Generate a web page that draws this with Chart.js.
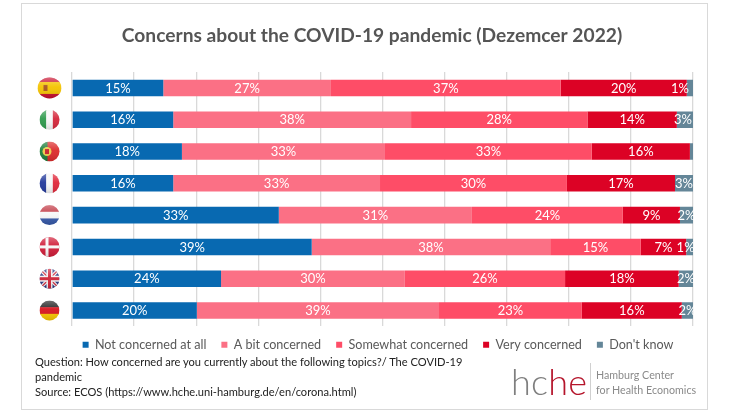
<!DOCTYPE html>
<html>
<head>
<meta charset="utf-8">
<title>Concerns about the COVID-19 pandemic</title>
<script src="https://cdn.jsdelivr.net/npm/chart.js@4"></script>
<style>
  html, body { margin: 0; padding: 0; background: #fff; }
  #wrap { position: relative; width: 733px; height: 414px; overflow: hidden; font-family: Lato, sans-serif; }
  #frame { position: absolute; left: 21px; top: 3px; width: 685px; height: 405px; border: 1.5px solid #d9d9d9; }
  canvas { position: absolute; left: 0; top: 0; }
  #note { position: absolute; left: 35px; top: 354px; font-size: 11.1px; line-height: 15px; color: #222; white-space: nowrap; }
  #logo { position: absolute; left: 511px; top: 356px; font-size: 36px; line-height: 50px; font-weight: 300; color: #7f7f7f; letter-spacing: 0.2px; }
  #logo span { color: #b5152b; }
  #rule { position: absolute; left: 590px; top: 363px; width: 1px; height: 37px; background: #d0d0d0; }
  #org { position: absolute; left: 596px; top: 367px; font-size: 10.7px; line-height: 15px; color: #8a8a8a; white-space: nowrap; }
</style>
</head>
<body>
<div id="wrap">
  <div id="frame"></div>
  <canvas id="chart" width="733" height="414"></canvas>
  <div id="note">Question: How concerned are you currently about the following topics?/ The COVID-19<br>pandemic<br>Source: ECOS (https://www.hche.uni-hamburg.de/en/corona.html)</div>
  <div id="logo">hc<span>he</span></div>
  <div id="rule"></div>
  <div id="org">Hamburg Center<br>for Health Economics</div>
</div>
<script>
// ---- Data ----
const countries = ['Spain', 'Italy', 'Portugal', 'France', 'Netherlands', 'Denmark', 'UK', 'Germany'];
const notConcerned = [14.7, 16.3, 17.7, 16.3, 33.3, 38.6, 24.0, 20.1];
const aBit = [27.0, 38.3, 32.7, 33.3, 31.1, 38.4, 29.6, 39.0];
const somewhat = [37.0, 28.4, 33.3, 30.1, 24.3, 14.6, 25.8, 23.0];
const very = [20.3, 14.4, 15.8, 17.4, 9.2, 7.3, 18.3, 16.1];
const dontKnow = [1.0, 2.6, 0.5, 2.9, 2.1, 1.1, 2.3, 1.8];
const seriesNames = ['Not concerned at all', 'A bit concerned', 'Somewhat concerned', 'Very concerned', "Don't know"];
const seriesColors = ['#0869b1', '#fb7085', '#fe4d67', '#dc0225', '#648698'];
const seriesValues = [notConcerned, aBit, somewhat, very, dontKnow];

// label shifts where the original moved small labels off centre: 'row,series': px
const labelShift = { '0,4': -10, '1,4': -2, '5,4': -4 };

// ---- Flags ----
function stripes(ctx, x, y, r, colors, vertical) {
  colors.forEach((c, i) => {
    const step = 2 * r / colors.length;
    ctx.fillStyle = c;
    if (vertical) ctx.fillRect(x - r + i * step, y - r, step + 0.5, 2 * r);
    else ctx.fillRect(x - r, y - r + i * step, 2 * r, step + 0.5);
  });
}

function cross(ctx, x, y, r, color, w, cx) {
  ctx.fillStyle = color;
  ctx.fillRect(cx - w / 2, y - r, w, 2 * r);
  ctx.fillRect(x - r, y - w / 2, 2 * r, w);
}

const flagPainters = {
  Spain(ctx, x, y, r) {
    stripes(ctx, x, y, r, ['#c8102e', '#f4c300', '#f4c300', '#c8102e'], false);
    ctx.fillStyle = '#a9541c';
    ctx.fillRect(x - 6, y - 3, 4, 6);
  },
  Italy(ctx, x, y, r) { stripes(ctx, x, y, r, ['#2e9a4c', '#f7f7f7', '#d4263a'], true); },
  Portugal(ctx, x, y, r) {
    stripes(ctx, x, y, r, ['#1d7f3c', '#1d7f3c', '#dc2a2a', '#dc2a2a', '#dc2a2a'], true);
    ctx.fillStyle = '#eccb4a';
    ctx.beginPath();
    ctx.arc(x - 2.5, y, 4.5, 0, Math.PI * 2);
    ctx.fill();
    ctx.fillStyle = '#c8202a';
    ctx.fillRect(x - 4.5, y - 2.5, 4, 5);
  },
  France(ctx, x, y, r) { stripes(ctx, x, y, r, ['#23399b', '#f7f7f7', '#e0273a'], true); },
  Netherlands(ctx, x, y, r) { stripes(ctx, x, y, r, ['#c23b46', '#f7f7f7', '#3558a8'], false); },
  Denmark(ctx, x, y, r) {
    stripes(ctx, x, y, r, ['#d01c38'], false);
    cross(ctx, x, y, r, '#f7f7f7', 3, x - 2.5);
  },
  UK(ctx, x, y, r) {
    stripes(ctx, x, y, r, ['#28357f'], false);
    ctx.strokeStyle = '#f3f3f3';
    ctx.lineWidth = 3.5;
    ctx.beginPath();
    ctx.moveTo(x - r, y - r); ctx.lineTo(x + r, y + r);
    ctx.moveTo(x + r, y - r); ctx.lineTo(x - r, y + r);
    ctx.stroke();
    ctx.strokeStyle = '#cf2438';
    ctx.lineWidth = 1.2;
    ctx.stroke();
    cross(ctx, x, y, r, '#f3f3f3', 6, x);
    cross(ctx, x, y, r, '#cf2438', 3, x);
  },
  Germany(ctx, x, y, r) { stripes(ctx, x, y, r, ['#222', '#d8141e', '#f6c500'], false); }
};

const flagsPlugin = {
  id: 'flags',
  afterDraw(chart) {
    const ctx = chart.ctx;
    const yScale = chart.scales.y;
    countries.forEach((name, i) => {
      const y = yScale.getPixelForValue(i);
      const x = 49.5;
      const r = 10;
      ctx.save();
      ctx.beginPath();
      if (name === 'Spain') ctx.ellipse(x, y, 12, 10.5, 0, 0, Math.PI * 2);
      else ctx.arc(x, y, r, 0, Math.PI * 2);
      ctx.clip();
      flagPainters[name](ctx, x, y, name === 'Spain' ? 12 : r);
      // glossy button look
      const gloss = ctx.createLinearGradient(0, y - r, 0, y + r);
      gloss.addColorStop(0, 'rgba(255,255,255,0.35)');
      gloss.addColorStop(0.45, 'rgba(255,255,255,0.05)');
      gloss.addColorStop(1, 'rgba(0,0,0,0.12)');
      ctx.fillStyle = gloss;
      ctx.fillRect(x - 13, y - 13, 26, 26);
      ctx.restore();
    });
  }
};

// ---- Value labels on the segments ----
const valueLabels = {
  id: 'valueLabels',
  afterDatasetsDraw(chart) {
    const ctx = chart.ctx;
    ctx.save();
    ctx.font = '13px Lato, sans-serif';
    ctx.fillStyle = '#fff';
    ctx.textAlign = 'center';
    ctx.textBaseline = 'middle';
    chart.data.datasets.forEach((ds, s) => {
      chart.getDatasetMeta(s).data.forEach((bar, row) => {
        const v = ds.data[row];
        if (v < 1) return;
        const shift = labelShift[row + ',' + s] || 0;
        ctx.fillText(Math.round(v) + '%', (bar.base + bar.x) / 2 + shift, bar.y + 0.5);
      });
    });
    ctx.restore();
  }
};

// title and legend are not centred on the same x in the original
const nudgeBlocks = {
  id: 'nudgeBlocks',
  afterLayout(chart) {
    chart.titleBlock.left += 7.5;
    chart.titleBlock.right += 7.5;
    chart.legend.left += 13.5;
    chart.legend.right += 13.5;
    chart.legend.top -= 3;
    chart.legend.bottom -= 3;
  }
};

new Chart(document.getElementById('chart'), {
  type: 'bar',
  data: {
    labels: countries,
    datasets: seriesNames.map((name, i) => ({
      label: name,
      data: seriesValues[i],
      backgroundColor: seriesColors[i],
      barPercentage: 0.52,
      categoryPercentage: 1
    }))
  },
  options: {
    indexAxis: 'y',
    responsive: false,
    animation: false,
    layout: { padding: { left: 36, right: 40, top: 0, bottom: 50 } },
    scales: {
      x: {
        stacked: true,
        min: 0,
        max: 100,
        grid: { color: '#d9d9d9', lineWidth: 1.3, drawTicks: false },
        border: { display: false },
        ticks: { display: false, stepSize: 10 }
      },
      y: {
        stacked: true,
        grid: { display: false },
        border: { display: false },
        ticks: { display: false },
        afterFit(scale) { scale.width = 36; }
      }
    },
    plugins: {
      title: {
        display: true,
        text: 'Concerns about the COVID-19 pandemic (Dezemcer 2022)',
        color: '#555555',
        font: { family: 'Lato, sans-serif', size: 19.2, weight: 'bold' },
        padding: { top: 24, bottom: 25 }
      },
      legend: {
        position: 'bottom',
        labels: {
          usePointStyle: true,
          pointStyle: 'rect',
          boxWidth: 6,
          boxHeight: 6,
          padding: 15,
          color: '#595959',
          font: { family: 'Lato, sans-serif', size: 12.6 }
        }
      },
      tooltip: { enabled: false }
    }
  },
  plugins: [flagsPlugin, valueLabels, nudgeBlocks]
});
</script>
</body>
</html>
